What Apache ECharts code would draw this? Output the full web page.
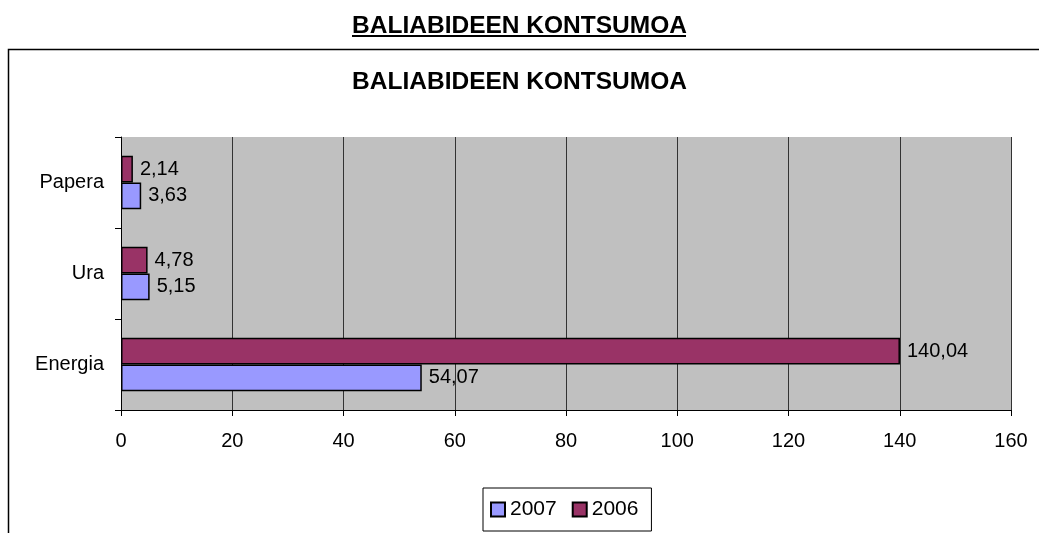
<!DOCTYPE html>
<html>
<head>
    <meta charset="utf-8">
    <title>BALIABIDEEN KONTSUMOA</title>
    <script src="https://cdn.jsdelivr.net/npm/echarts@6/dist/echarts.min.js"></script>
    <style>
        html, body { margin: 0; padding: 0; background: #fff; }
        #main { width: 1039px; height: 533px; }
    </style>
</head>
<body>
<div id="main"></div>
<script type="text/javascript">

// datuak
var categories = ['Energia', 'Ura', 'Papera'];   // behetik gora
var urteak     = ['2007', '2006'];
var data2007   = [54.07, 5.15, 3.63];
var data2006   = [140.04, 4.78, 2.14];
var xTicks     = [0, 20, 40, 60, 80, 100, 120, 140, 160];

var font = "'Liberation Sans', Arial, sans-serif";

var myChart = echarts.init(document.getElementById('main'));

function koma(p) {
    return p.value.toFixed(2).replace('.', ',');
}

function barLabel() {
    return {
        show: true,
        position: 'right',
        distance: 7,
        formatter: koma,
        fontFamily: font,
        fontSize: 20,
        color: '#000'
    };
}

var option = {
    animation: false,
    textStyle: { fontFamily: font },
    title: [
        {
            text: 'BALIABIDEEN KONTSUMOA',
            left: 'center',
            top: 9,
            textStyle: { fontFamily: font, fontSize: 24.5, fontWeight: 'bold', color: '#000' }
        },
        {
            text: 'BALIABIDEEN KONTSUMOA',
            left: 'center',
            top: 65,
            textStyle: { fontFamily: font, fontSize: 24.5, fontWeight: 'bold', color: '#000' }
        }
    ],
    graphic: [
        {   // titulu azpimarra
            type: 'line',
            shape: { x1: 352, y1: 36, x2: 686, y2: 36 },
            style: { stroke: '#000', lineWidth: 2 }
        },
        {   // grafikoaren markoa
            type: 'rect',
            shape: { x: 8.5, y: 49.5, width: 1100, height: 600 },
            style: { fill: 'none', stroke: '#000', lineWidth: 1.5 }
        }
    ],
    legend: {
        data: urteak,
        left: 483,
        top: 488,
        padding: [11, 13, 11, 7],
        itemWidth: 14,
        itemHeight: 14,
        itemGap: 15,
        icon: 'rect',
        borderColor: '#000',
        borderWidth: 1,
        backgroundColor: '#fff',
        textStyle: { fontFamily: font, fontSize: 21, color: '#000' }
    },
    grid: {
        left: 121,
        right: 28,
        top: 137,
        bottom: 123,
        show: true,
        backgroundColor: '#C0C0C0',
        borderWidth: 0
    },
    xAxis: {
        type: 'value',
        min: xTicks[0],
        max: xTicks[xTicks.length - 1],
        interval: 20,
        axisLine: { show: true, lineStyle: { color: '#000', width: 1 } },
        axisTick: { show: true, length: 6, lineStyle: { color: '#000' } },
        axisLabel: { fontFamily: font, fontSize: 20, color: '#000', margin: 21 },
        splitLine: { show: true, lineStyle: { color: '#333', width: 1 } }
    },
    yAxis: {
        type: 'category',
        data: categories,
        axisLine: { show: true, lineStyle: { color: '#000', width: 1 } },
        axisTick: { show: true, length: 6, alignWithLabel: false, lineStyle: { color: '#000' } },
        axisLabel: { fontFamily: font, fontSize: 20, color: '#000', margin: 17 },
        splitLine: { show: false }
    },
    series: [
        {
            name: '2006',
            type: 'bar',
            data: data2006,
            barCategoryGap: '41%',
            barGap: '0%',
            itemStyle: { color: '#993366', borderColor: '#000', borderWidth: 1.5 },
            label: barLabel()
        },
        {
            name: '2007',
            type: 'bar',
            data: data2007,
            barCategoryGap: '41%',
            barGap: '0%',
            itemStyle: { color: '#9999FF', borderColor: '#000', borderWidth: 1.5 },
            label: barLabel()
        }
    ]
};

myChart.setOption(option);
window.onresize = myChart.resize;

</script>
</body>
</html>
